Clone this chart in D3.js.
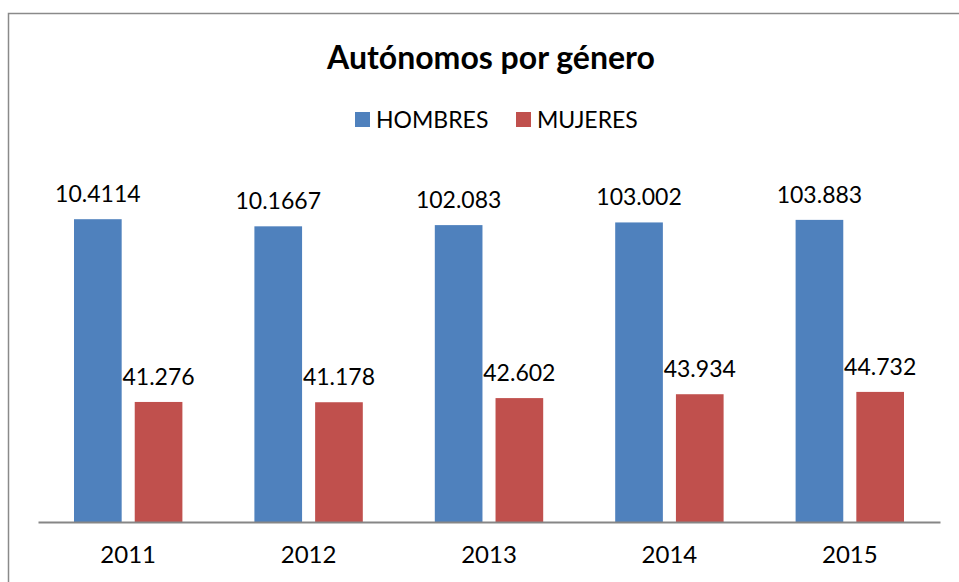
<!DOCTYPE html>
<html>
<head>
<meta charset="utf-8">
<script src="https://cdn.jsdelivr.net/npm/d3@7"></script>
<style>
  body { margin: 0; background: #fff; }
  text { font-family: Lato, "Open Sans", sans-serif; fill: #000; }
</style>
</head>
<body>
<div id="chart"></div>
<script>
var years = ['2011', '2012', '2013', '2014', '2015'];
var hombres = [104.114, 101.667, 102.083, 103.002, 103.883];
var mujeres = [41.276, 41.178, 42.602, 43.934, 44.732];
// labels as printed on the original chart
var hombresLabels = ['10.4114', '10.1667', '102.083', '103.002', '103.883'];
var mujeresLabels = ['41.276', '41.178', '42.602', '43.934', '44.732'];
var seriesNames = ['HOMBRES', 'MUJERES'];
var colors = ['#4F81BD', '#C0504D'];

var width = 959, height = 582;
var margin = { top: 173, right: 19, bottom: 60, left: 38 };

var svg = d3.select('#chart').append('svg')
    .attr('width', width)
    .attr('height', height);

// outer frame
svg.append('rect')
    .attr('x', 8.5).attr('y', 13.5)
    .attr('width', 980).attr('height', 620)
    .attr('fill', 'none')
    .attr('stroke', '#8a8a8a')
    .attr('stroke-width', 1.5);

svg.append('text')
    .attr('x', 491).attr('y', 69)
    .attr('text-anchor', 'middle')
    .style('font-size', '32px')
    .style('font-weight', 'bold')
    .text('Autónomos por género');

var xScale = d3.scaleBand().domain(years)
    .range([margin.left, width - margin.right])
    .paddingInner(0).paddingOuter(0);
var xInner = d3.scaleBand().domain([0, 1])
    .range([36, xScale.bandwidth() - 36])
    .paddingInner(0.215);
var yScale = d3.scaleLinear().domain([0, 120])
    .range([height - margin.bottom, margin.top]);

// legend
var legendX = [355, 516];
var legend = svg.selectAll('g.legend').data(seriesNames).enter().append('g')
    .attr('class', 'legend')
    .attr('transform', function (d, i) { return 'translate(' + legendX[i] + ',112)'; });
legend.append('rect')
    .attr('width', 15).attr('height', 15)
    .attr('fill', function (d, i) { return colors[i]; });
legend.append('text')
    .attr('x', 21).attr('y', 16)
    .style('font-size', '23px')
    .text(function (d) { return d; });

var series = [
  { values: hombres, labels: hombresLabels },
  { values: mujeres, labels: mujeresLabels }
];

series.forEach(function (s, si) {
  var g = svg.append('g');
  g.selectAll('rect').data(s.values).enter().append('rect')
      .attr('x', function (d, i) { return xScale(years[i]) + xInner(si); })
      .attr('y', function (d) { return yScale(d); })
      .attr('width', xInner.bandwidth())
      .attr('height', function (d) { return yScale(0) - yScale(d); })
      .attr('fill', colors[si]);
  g.selectAll('text').data(s.values).enter().append('text')
      .attr('x', function (d, i) { return xScale(years[i]) + xInner(si) + xInner.bandwidth() / 2; })
      .attr('y', function (d) { return yScale(d) - 17; })
      .attr('text-anchor', 'middle')
      .style('font-size', '23px')
      .text(function (d, i) { return s.labels[i]; });
});

var xAxis = d3.axisBottom(xScale).tickSize(0).tickPadding(24);
var xAxisEl = svg.append('g')
    .attr('transform', 'translate(0,' + yScale(0) + ')')
    .call(xAxis);
xAxisEl.select('.domain').attr('stroke', '#868686').attr('stroke-width', 2);
xAxisEl.selectAll('text').style('font-size', '24px').attr('fill', '#000');
</script>
</body>
</html>
